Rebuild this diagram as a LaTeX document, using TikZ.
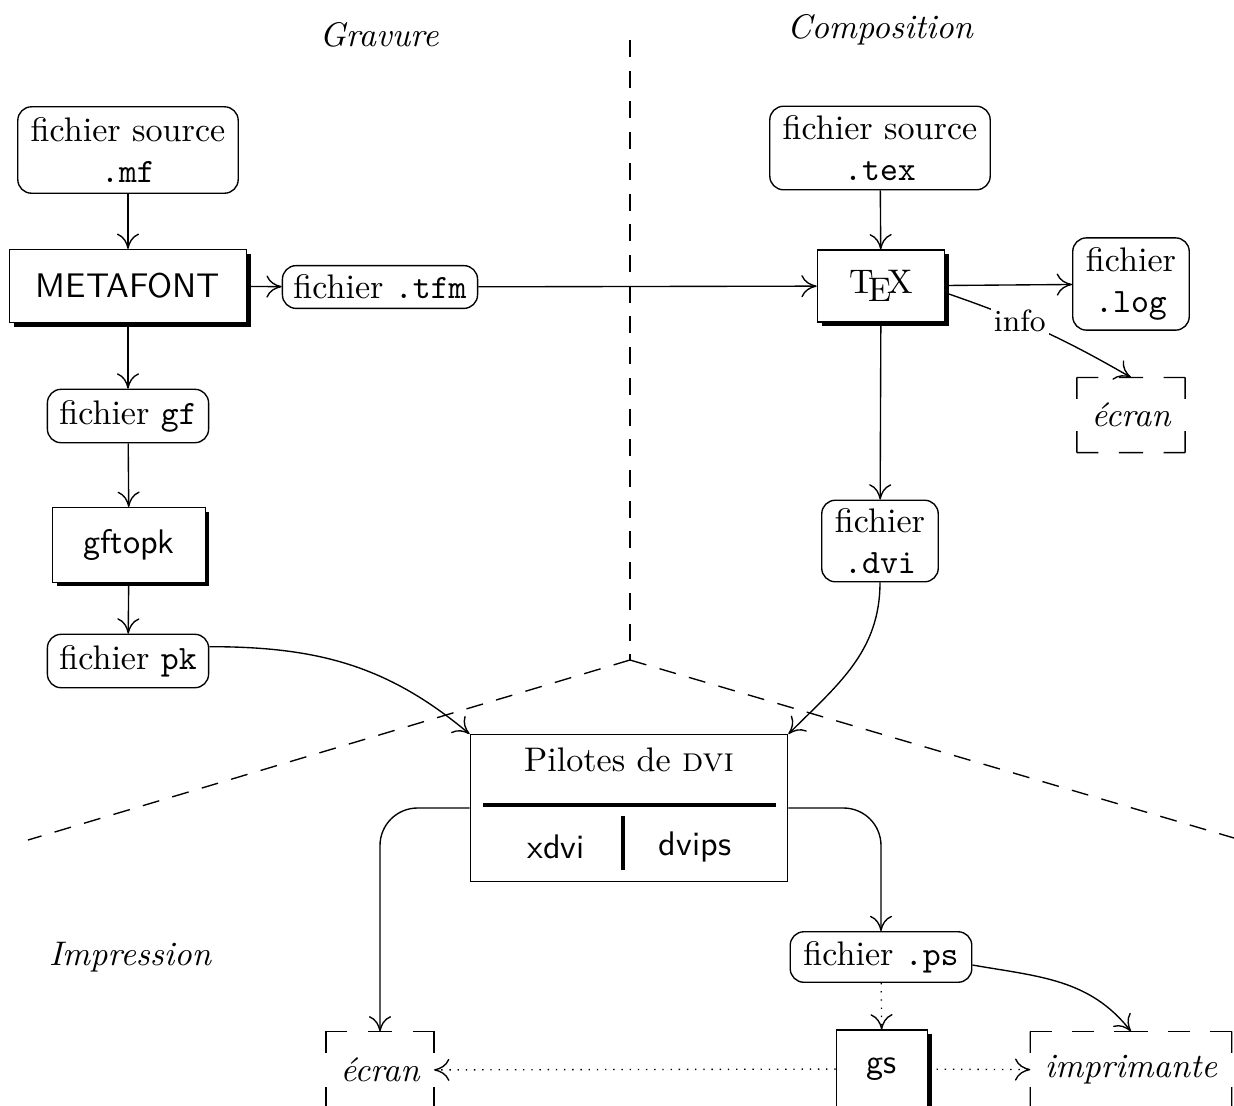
\documentclass[tikz,border=0pt]{standalone}
\usepackage{tikz}
\usetikzlibrary{arrows,arrows.meta,shapes,positioning,shadows,calc}
\tikzstyle{fichier} = [rectangle, rounded corners=4pt, draw, fill=white, align=center, inner sep=2pt]
\tikzstyle{programme} = [rectangle, draw, fill=white, font=\sffamily, drop shadow={shadow xshift=1.2pt, shadow yshift=-1.2pt, fill=black, opacity=1}]
\tikzstyle{sortie} = [rectangle, align=center, font=\itshape]
\tikzstyle{titre} = [font=\itshape]
\tikzstyle{arrow} = [->, >={Computer Modern Rightarrow[length=4.5pt, width=6.5pt]}]
\tikzstyle{option} = [arrow, dotted]
\tikzstyle{frontiere} = [dash pattern=on 5pt off 4pt]
% cadre en tirets, coins pleins
\newcommand{\cadre}[1]{%
  \foreach \p/\q in {north west/north east,north east/south east,south east/south west,south west/north west}{%
    \draw[dash pattern=on 6.3pt off 6pt] (#1.\p) -- ($(#1.\p)!0.5!(#1.\q)$);
    \draw[dash pattern=on 6.3pt off 6pt] (#1.\q) -- ($(#1.\p)!0.5!(#1.\q)$);
  }}

\begin{document}
\begin{tikzpicture}[x=0.0103cm, y=-0.0103cm]
\useasboundingbox (0,0) rectangle (1234,1106);
% les trois zones
\coordinate (haut) at (630,40);
\coordinate (centre) at (630,660);
\coordinate (gauche) at (28,840);
\coordinate (droite) at (1234,838);
\draw [frontiere] (haut) -- (centre);
\draw [frontiere] (centre) -- (gauche);
\draw [frontiere] (centre) -- (droite);
\node (gravure) [titre] at (379,35) {Gravure};
\node (composition) [titre] at (880,30) {Composition};
\node (impression) [titre] at (130,957) {Impression};
% gravure
\node (srcmf) [fichier, minimum width=2.27cm, minimum height=0.89cm] at (128,150) {fichier source\\\texttt{.mf}};
\node (metafont) [programme, minimum width=2.44cm, minimum height=0.75cm] at (128,286) {METAFONT};
\node (tfm) [fichier, minimum width=2.01cm, minimum height=0.44cm] at (380,287) {fichier \texttt{.tfm}};
\node (gf) [fichier, minimum width=1.66cm, minimum height=0.55cm] at (128,416) {fichier \texttt{gf}};
\node (gftopk) [programme, minimum width=1.57cm, minimum height=0.77cm] at (129,545) {gftopk};
\node (pk) [fichier, minimum width=1.66cm, minimum height=0.55cm] at (128,661) {fichier \texttt{pk}};
% composition
\node (srctex) [fichier, minimum width=2.27cm, minimum height=0.86cm] at (880,148) {fichier source\\\texttt{.tex}};
\node (tex) [programme, font=\rmfamily, minimum width=1.31cm, minimum height=0.74cm] at (881,286) {\TeX};
\node (log) [fichier, minimum width=1.2cm, minimum height=0.95cm] at (1131,284) {fichier\\\texttt{.log}};
\node (ecran) [sortie, minimum width=1.1cm, minimum height=0.76cm] at (1131,415) {écran};
\node (dvi) [fichier, minimum width=1.2cm, minimum height=0.84cm] at (880,541) {fichier\\\texttt{.dvi}};
% impression
\node (pilotes) [rectangle, draw, fill=white, minimum width=3.27cm, minimum height=1.51cm] at (629,808) {};
\node (pilotestitre) at (629,760) {Pilotes de \textsc{dvi}};
\node (xdvi) [font=\sffamily] at (556,847) {xdvi};
\node (dvips) [font=\sffamily] at (695,847) {dvips};
\draw [line width=1.2pt] (483,805) -- (776,805);
\draw [line width=1.2pt] (623,816) -- (623,870);
\node (ps) [fichier, minimum width=1.87cm, minimum height=0.52cm] at (881,957) {fichier \texttt{.ps}};
\node (gs) [programme, minimum width=0.94cm, minimum height=0.8cm] at (882,1069) {gs};
\node (ecranbas) [sortie, minimum width=1.1cm, minimum height=0.78cm] at (380,1070) {écran};
\node (imprimante) [sortie, minimum width=2.06cm, minimum height=0.78cm] at (1131,1070) {imprimante};
\cadre{ecran}
\cadre{ecranbas}
\cadre{imprimante}
% fleches
\draw [arrow] (srcmf) -- (metafont);
\draw [arrow] (metafont) -- (tfm);
\draw [arrow] (tfm) -- (tex);
\draw [arrow] (metafont) -- (gf);
\draw [arrow] (gf) -- (gftopk);
\draw [arrow] (gftopk) -- (pk);
\draw [arrow] (pk.10) to[out=0, in=140] (pilotes.north west);
\draw [arrow] (srctex) -- (tex);
\draw [arrow] (tex) -- (log);
\draw [arrow] (tex.-6) to[out=-19, in=150] node[pos=0.38, fill=white, font=\small, inner sep=1pt] {info} (ecran.north);
\draw [arrow] (tex) -- (dvi);
\draw [arrow] (dvi.south) to[out=-90, in=45] (pilotes.north east);
\draw [arrow, rounded corners=11pt] (pilotes.west) -| (ecranbas.north);
\draw [arrow, rounded corners=11pt] (pilotes.east) -| (ps.north);
\draw [arrow] (ps.-5) to[out=-10, in=128] (imprimante.north);
\draw [option] (ps) -- (gs);
\draw [option] (gs) -- (ecranbas);
\draw [option] (gs) -- (imprimante);
\end{tikzpicture}
\end{document}
